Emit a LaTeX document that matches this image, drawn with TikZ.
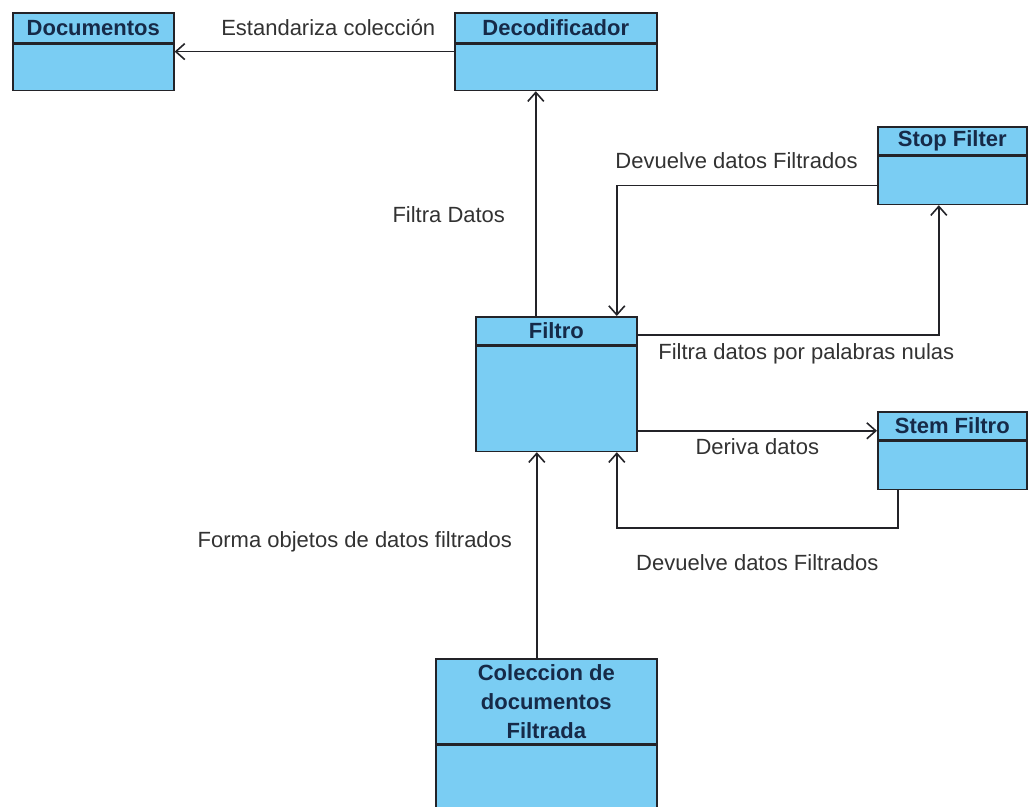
\documentclass[tikz,border=0pt]{standalone}
\usepackage{fontspec}
\setmainfont{Liberation Sans}
\usetikzlibrary{positioning,arrows.meta}

\definecolor{azulclase}{RGB}{122,205,243}
\definecolor{tituloclase}{RGB}{22,42,72}
\definecolor{trazo}{RGB}{35,35,40}
\definecolor{textoflecha}{RGB}{50,50,50}

\tikzset{
  cabecera/.style={draw=trazo, fill=azulclase, line width=0.8pt,
    anchor=north west, inner sep=0pt, align=center, text=tituloclase,
    font=\bfseries\fontsize{11}{14.5}\selectfont},
  cuerpo/.style={draw=trazo, fill=azulclase, line width=0.8pt, inner sep=0pt},
  flecha/.style={draw=trazo, line width=0.8pt,
    -{Straight Barb[length=4.5pt,width=8pt]}},
  etiqueta/.style={inner sep=0pt, text=textoflecha,
    font=\fontsize{11}{13}\selectfont, text height=8pt, text depth=2.5pt}
}

\begin{document}
\begin{tikzpicture}[x=0.5pt,y=-0.5pt]
\useasboundingbox (0,0) rectangle (1029,807);
\clip (0,0) rectangle (1029,807);

% Documentos
\node[cabecera, minimum width=80.5pt, minimum height=15pt] (docs) at (12,12) {Documentos};
\node[cuerpo, below=0pt of docs, minimum width=80.5pt, minimum height=23pt] (docs-c) {};

% Decodificador
\node[cabecera, minimum width=101pt, minimum height=15pt] (deco) at (454,12) {Decodificador};
\node[cuerpo, below=0pt of deco, minimum width=101pt, minimum height=23pt] (deco-c) {};

% Stop Filter
\node[cabecera, minimum width=74.5pt, minimum height=14pt] (stop) at (877,126) {Stop Filter};
\node[cuerpo, below=0pt of stop, minimum width=74.5pt, minimum height=24pt] (stop-c) {};

% Filtro
\node[cabecera, minimum width=80.5pt, minimum height=14pt] (filtro) at (475,316) {Filtro};
\node[cuerpo, below=0pt of filtro, minimum width=80.5pt, minimum height=52.5pt] (filtro-c) {};

% Stem Filtro
\node[cabecera, minimum width=74.5pt, minimum height=14pt] (stem) at (877,411) {Stem Filtro};
\node[cuerpo, below=0pt of stem, minimum width=74.5pt, minimum height=24pt] (stem-c) {};

% Coleccion de documentos
\node[cabecera, minimum width=110.5pt, minimum height=42.5pt] (col) at (435,658)
  {Coleccion de\\documentos\\Filtrada};
\node[cuerpo, below=0pt of col, minimum width=110.5pt, minimum height=45pt] (col-c) {};

% Arrows
\draw[flecha] ([yshift=-4pt]deco-c.north west) -- ([yshift=-4pt]docs-c.north east)
    node[etiqueta, pos=0.45, above=5pt]{Estandariza colección};

\coordinate (filtroarriba) at ([xshift=-10.25pt]filtro.north);
\draw[flecha] (filtroarriba) -- (filtroarriba |- deco-c.south)
    node[etiqueta, pos=0.44, left=15pt]{Filtra Datos};

\coordinate (regreso) at ([xshift=30.25pt]filtro.north);
\draw[flecha] ([yshift=-2.5pt]stop-c.west) -| (regreso)
    node[etiqueta, pos=0.27, above=5.5pt]{Devuelve datos Filtrados};

\coordinate (subida) at ([xshift=-6.75pt]stop-c.south);
\draw[flecha] ([yshift=-2pt]filtro.east) -| (subida)
    node[etiqueta, pos=0.28, below=4pt]{Filtra datos por palabras nulas};

\coordinate (deriva) at ([yshift=-2.5pt]stem.west);
\draw[flecha] (deriva -| filtro-c.east) -- (deriva)
    node[etiqueta, midway, below=3.5pt]{Deriva datos};

\coordinate (bajada) at ([xshift=-27.25pt]stem-c.south);
\coordinate (vuelta) at ([xshift=30.25pt]filtro-c.south);
\draw[flecha] (bajada) |- ([yshift=-38pt]vuelta)
    node[etiqueta, pos=0.75, below=13pt]{Devuelve datos Filtrados}
    -- (vuelta);

\coordinate (forma) at ([xshift=-4.75pt]col.north);
\draw[flecha] (forma) -- (forma |- filtro-c.south)
    node[etiqueta, pos=0.565, left=12pt]{Forma objetos de datos filtrados};

\end{tikzpicture}
\end{document}
